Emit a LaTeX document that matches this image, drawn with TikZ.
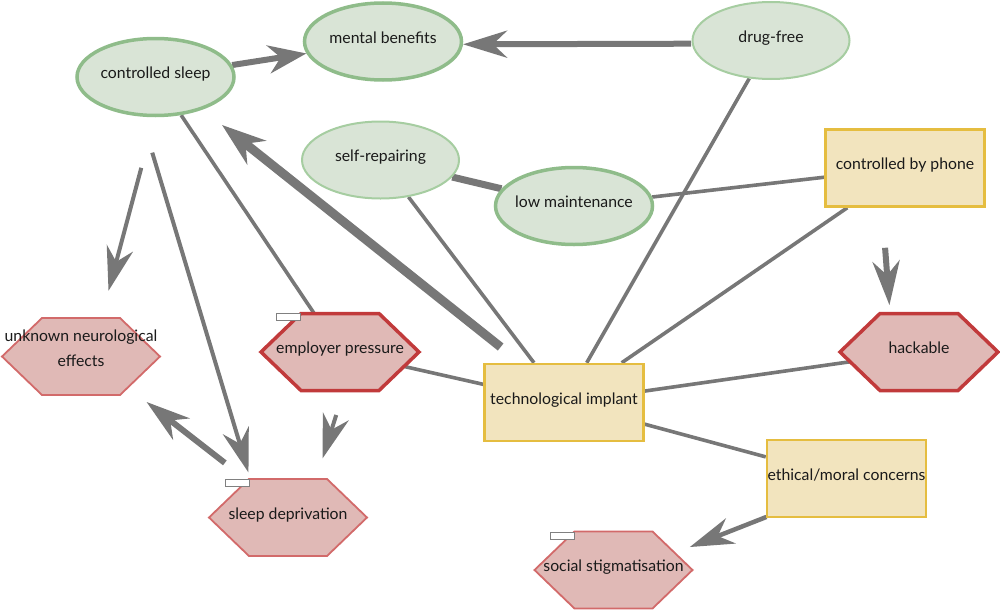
\documentclass[tikz,border=0pt]{standalone}
\usepackage{fontspec}
\setmainfont{Lato}
\usetikzlibrary{shapes.geometric,arrows.meta,calc}
\pgfdeclarelayer{edges}
\pgfdeclarelayer{shapes}
\pgfsetlayers{edges,shapes,main}
\definecolor{gfill}{HTML}{D9E4D6}
\definecolor{gline}{HTML}{8FBC8A}
\definecolor{glinet}{HTML}{A6CDA1}
\definecolor{rfill}{HTML}{E0B9B6}
\definecolor{rline}{HTML}{C13A3B}
\definecolor{rlinet}{HTML}{D26A6A}
\definecolor{yfill}{HTML}{F2E4BE}
\definecolor{yline}{HTML}{E5BD40}
\definecolor{eline}{HTML}{777777}
\definecolor{tcol}{HTML}{1A1A1A}
\newcommand\hexpath[1]{($(#1)+(-79,0)$) -- ($(#1)+(-39,-38.5)$) -- ($(#1)+(39,-38.5)$) -- ($(#1)+(79,0)$) -- ($(#1)+(39,38.5)$) -- ($(#1)+(-39,38.5)$) -- cycle}
\begin{document}
\begin{tikzpicture}[x=1pt,y=-1pt,
  txt/.style={font=\fontsize{15.8}{19}\selectfont, text=tcol, text height=0.68em, text depth=0.34em, inner sep=0pt},
  ell/.style={txt, ellipse, fill=gfill, minimum width=157pt, minimum height=77pt, inner xsep=-14pt},
  ellthick/.style={ell, draw=gline, line width=3.5pt},
  ellthin/.style={ell, draw=glinet, line width=2pt},
  rectbox/.style={txt, rectangle, fill=yfill, draw=yline, line width=2.5pt, minimum width=159pt, minimum height=77pt},
  hexbox/.style={txt, rectangle, minimum width=158pt, minimum height=77pt},
  hexthick/.style={fill=rfill, draw=rline, line width=3.5pt, line join=miter},
  hexthin/.style={fill=rfill, draw=rlinet, line width=1.8pt},
  lbl/.style={font=\fontsize{15.8}{24.5}\selectfont, text=tcol, align=center, inner sep=0pt},
  edge/.style={draw=eline, line width=3.6pt},
  tip/.style={-{Stealth[length=44pt,width=27pt,inset=14pt]}},
  tag/.style={draw=gray, fill=white, line width=0.8pt, minimum width=24pt, minimum height=7pt, inner sep=0pt},
]
\useasboundingbox (0,0) rectangle (1000,613);

% nodes
\node[ellthick] (cs) at (155.5,77) {controlled sleep};
\node[ellthick] (mb) at (383,41.5) {mental benefits};
\node[ellthin] (df) at (771,40.5) {drug-free};
\node[ellthin] (sr) at (380.5,160) {self-repairing};
\node[ellthick] (lm) at (574,206) {low maintenance};
\node[rectbox] (cbp) at (905,168) {controlled by phone};
\node[rectbox] (tech) at (564,402.5) {technological implant};
\node[rectbox] (eth) at (846.5,478.5) {ethical/moral concerns};
\node[hexbox] (hack) at (919,352) {hackable};
\node[hexbox] (ep) at (340,352) {employer pressure};
\node[hexbox, label={[lbl, anchor=north, yshift=8.5pt]center:{unknown neurological\\effects}}] (une) at (81,356.5) {};
\node[hexbox] (sd) at (288,517.5) {sleep deprivation};
\node[hexbox] (ss) at (613.5,570) {social stigmatisation};

\node[tag] (epTag) at (288,317) {};
\node[tag] (sdTag) at (237,482.5) {};
\node[tag] (ssTag) at (562,535.5) {};

% hexagon outlines
\begin{pgfonlayer}{shapes}
  \path[hexthick] \hexpath{hack};
  \path[hexthick] \hexpath{ep};
  \path[hexthin] \hexpath{une};
  \path[hexthin] \hexpath{sd};
  \path[hexthin] \hexpath{ss};
\end{pgfonlayer}

% shifted reference points for offset connectors
\coordinate (csA) at ($(cs)+(10,0)$);
\coordinate (uneA) at ($(une)+(10,0)$);
\coordinate (csL) at ($(cs)+(-26,0)$);
\coordinate (sdL) at ($(sd)+(-26,0)$);
\coordinate (sdB) at ($(sd)+(0,-5.5)$);
\coordinate (uneB) at ($(une)+(0,-5.5)$);
\coordinate (epC) at ($(ep)+(16,0)$);
\coordinate (sdC) at ($(sd)+(16,0)$);
\coordinate (cbpS) at ($(cbp)+(-26,0)$);
\coordinate (hackS) at ($(hack)+(-26,0)$);
\coordinate (ethS) at ($(eth)+(0,7)$);
\coordinate (ssS) at ($(ss)+(0,7)$);
\coordinate (techS) at ($(tech)+(0,-5)$);
\coordinate (csS) at ($(cs)+(0,-5)$);
\coordinate (dfS) at ($(df)+(0,3)$);
\coordinate (mbS) at ($(mb)+(0,3)$);

\begin{pgfonlayer}{edges}
  \draw[edge, line width=6pt, -{Stealth[length=38pt,width=28pt,inset=12pt]}] (cs) -- (mb);
  \draw[edge, line width=6pt, tip] ($(dfS)!80pt!(mbS)$) -- ($(mbS)!80pt!(dfS)$);
  \draw[edge, line width=9pt, -{Stealth[length=44pt,width=30pt,inset=14pt]}] ($(techS)!81pt!(csS)$) -- ($(csS)!85pt!(techS)$);
  \draw[edge] (cs) -- (ep);
  \draw[edge, line width=7pt] (sr) -- (lm);
  \draw[edge] (sr) -- (tech);
  \draw[edge] (df) -- (tech);
  \draw[edge] (lm) -- (cbp);
  \draw[edge] (cbp) -- (tech);
  \draw[edge, shorten >=-10pt] (tech) -- (hack);
  \draw[edge] (tech) -- (eth);
  \draw[edge, shorten <=-15pt] (ep) -- (tech);
  \draw[edge, line width=4.5pt, tip] ($(ethS)!86pt!(ssS)$) -- ($(ssS)!82pt!(ethS)$);
  \draw[edge, line width=4pt, tip] ($(csA)!94pt!(uneA)$) -- ($(uneA)!68pt!(csA)$);
  \draw[edge, line width=4pt, tip] ($(csL)!79pt!(sdL)$) -- ($(sdL)!47pt!(csL)$);
  \draw[edge, line width=6pt, tip] ($(sdB)!80pt!(uneB)$) -- ($(uneB)!83pt!(sdB)$);
  \draw[edge, line width=4pt, tip] ($(epC)!66pt!(sdC)$) -- ($(sdC)!62pt!(epC)$);
  \draw[edge, line width=6pt, tip] ($(cbpS)!80pt!(hackS)$) -- ($(hackS)!47pt!(cbpS)$);
\end{pgfonlayer}
\end{tikzpicture}
\end{document}
